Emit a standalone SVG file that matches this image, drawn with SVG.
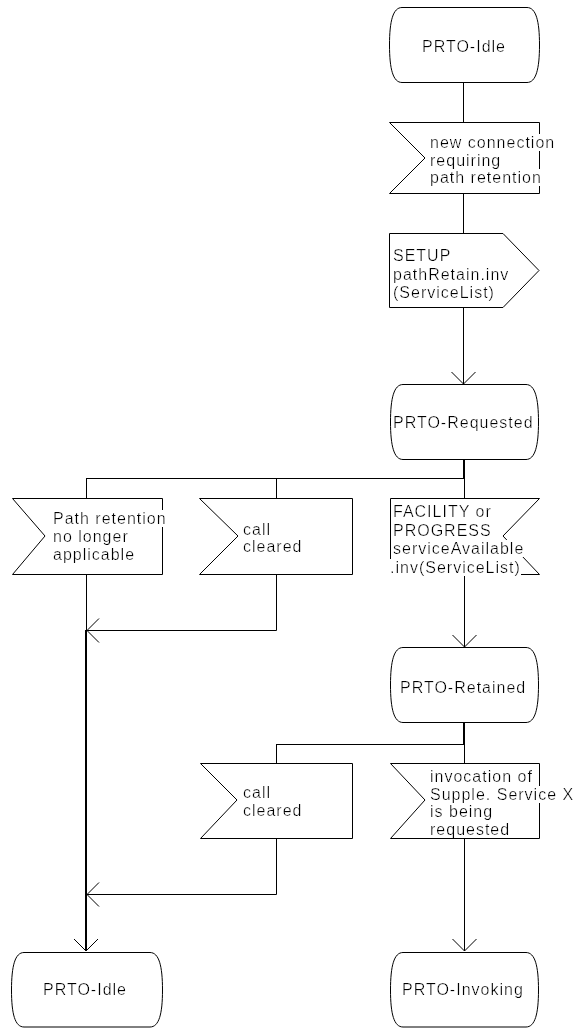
<svg xmlns="http://www.w3.org/2000/svg" width="576" height="1028" viewBox="0 0 576 1028">
<style>
.sh{fill:#fff;stroke:#000;stroke-width:1}
.c{fill:none;stroke:#000;stroke-width:1}
.tk{fill:none;stroke:#000;stroke-width:2}
.t{font-family:"Liberation Sans",Arial,sans-serif;font-size:16px;font-weight:normal;letter-spacing:1px;fill:#000}
.b{filter:url(#bg)}
</style>
<defs>
<filter id="bg" x="0" y="0" width="1" height="1"><feFlood flood-color="#fff"/><feComposite in="SourceGraphic" operator="over"/></filter>
<marker id="arr" markerUnits="userSpaceOnUse" markerWidth="26" markerHeight="26" viewBox="0 0 26 26" refX="13" refY="13" orient="auto"><path d="M1,1 L13,13 L1,25" fill="none" stroke="#000" stroke-width="1"/></marker>
</defs>
<rect width="576" height="1028" fill="#fff"/>
<g id="connectors">
<path class="c" d="M463.5,83 V122"/>
<path class="c" d="M463.5,194 V233"/>
<path class="c" d="M463.5,308 V384" marker-end="url(#arr)"/>
<path class="tk" d="M464,460 V479"/>
<path class="c" d="M86.5,478.5 H464"/>
<path class="c" d="M86.5,478 V498"/>
<path class="c" d="M276.5,478 V498"/>
<path class="c" d="M464.5,478 V498"/>
<path class="c" d="M86.5,574 V630"/>
<path class="c" d="M276.5,574 V630.5 H87" marker-end="url(#arr)"/>
<path class="tk" d="M86,630 V951" marker-end="url(#arr)"/>
<path class="c" d="M464.5,574 V647" marker-end="url(#arr)"/>
<path class="tk" d="M464,723 V745"/>
<path class="c" d="M276.5,744.5 H464"/>
<path class="c" d="M276.5,744 V763"/>
<path class="c" d="M464.5,744 V763"/>
<path class="c" d="M276.5,838 V894.5 H87" marker-end="url(#arr)"/>
<path class="c" d="M464.5,838 V951" marker-end="url(#arr)"/>
</g>
<g id="state-idle-top">
<path class="sh" d="M402,7.5 H527 C536,7.5 539.5,21 539.5,45 C539.5,69 536,82.5 527,82.5 H402 C393,82.5 389.5,69 389.5,45 C389.5,21 393,7.5 402,7.5 Z"/>
<text class="t b" x="422" y="52">PRTO-Idle</text>
</g>
<g id="input-new-connection">
<polygon class="sh" points="389.5,122.5 539.5,122.5 539.5,193.5 389.5,193.5 425,158"/>
<text class="t b" x="430" y="148">new connection</text>
<text class="t b" x="430" y="166">requiring</text>
<text class="t b" x="430" y="183">path retention</text>
</g>
<g id="output-setup">
<polygon class="sh" points="389.5,233.5 503,233.5 539,270.5 503,307.5 389.5,307.5"/>
<text class="t b" x="393" y="261">SETUP</text>
<text class="t b" x="393" y="280">pathRetain.inv</text>
<text class="t b" x="393" y="298">(ServiceList)</text>
</g>
<g id="state-requested">
<path class="sh" d="M403,384.5 H526 C535,384.5 538.5,398 538.5,422 C538.5,446 535,459.5 526,459.5 H403 C394,459.5 390.5,446 390.5,422 C390.5,398 394,384.5 403,384.5 Z"/>
<text class="t b" x="393" y="428">PRTO-Requested</text>
</g>
<g id="input-path-retention">
<polygon class="sh" points="12.5,498.5 162.5,498.5 162.5,574.5 12.5,574.5 45,536"/>
<text class="t b" x="53" y="524">Path retention</text>
<text class="t b" x="53" y="542">no longer</text>
<text class="t b" x="53" y="560">applicable</text>
</g>
<g id="input-call-cleared-1">
<polygon class="sh" points="199.5,498.5 352.5,498.5 352.5,574.5 199.5,574.5 238,536"/>
<text class="t b" x="243" y="535">call</text>
<text class="t b" x="243" y="552">cleared</text>
</g>
<g id="input-facility">
<polygon class="sh" points="390.5,498.5 539.5,498.5 503,536 539.5,574.5 390.5,574.5"/>
<text class="t b" x="393" y="517">FACILITY or</text>
<text class="t b" x="393" y="536">PROGRESS</text>
<text class="t b" x="393" y="554">serviceAvailable</text>
<text class="t b" x="390" y="573">.inv(ServiceList)</text>
</g>
<g id="state-retained">
<path class="sh" d="M403,647.5 H526 C535,647.5 538.5,661 538.5,685 C538.5,709 535,722.5 526,722.5 H403 C394,722.5 390.5,709 390.5,685 C390.5,661 394,647.5 403,647.5 Z"/>
<text class="t b" x="400" y="693">PRTO-Retained</text>
</g>
<g id="input-call-cleared-2">
<polygon class="sh" points="200.5,763.5 352.5,763.5 352.5,838.5 200.5,838.5 237,800"/>
<text class="t b" x="243" y="798">call</text>
<text class="t b" x="243" y="816">cleared</text>
</g>
<g id="input-invocation">
<polygon class="sh" points="390.5,763.5 539.5,763.5 539.5,838.5 390.5,838.5 425,800"/>
<text class="t b" x="430" y="782">invocation of</text>
<text class="t b" x="430" y="800">Supple. Service X</text>
<text class="t b" x="430" y="817">is being</text>
<text class="t b" x="430" y="835">requested</text>
</g>
<g id="state-idle-bottom">
<path class="sh" d="M24,952.5 H150 C159,952.5 162.5,966 162.5,990 C162.5,1014 159,1027 150,1027 H24 C15,1027 11.5,1014 11.5,990 C11.5,966 15,952.5 24,952.5 Z"/>
<text class="t b" x="43" y="995">PRTO-Idle</text>
</g>
<g id="state-invoking">
<path class="sh" d="M403,952.5 H526 C535,952.5 538.5,966 538.5,990 C538.5,1014 535,1027 526,1027 H403 C394,1027 390.5,1014 390.5,990 C390.5,966 394,952.5 403,952.5 Z"/>
<text class="t b" x="402" y="995">PRTO-Invoking</text>
</g>
</svg>
